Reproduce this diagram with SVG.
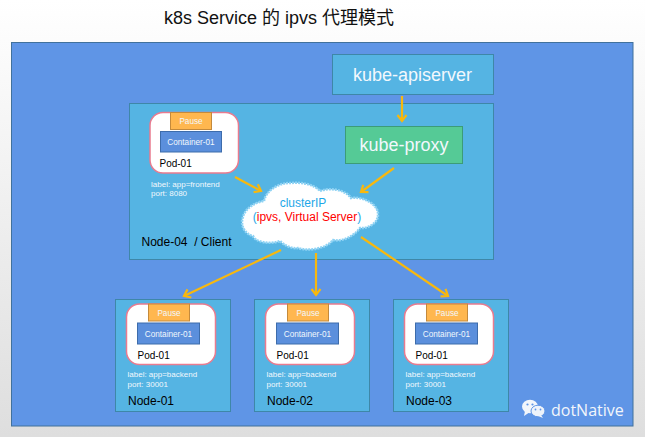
<svg xmlns="http://www.w3.org/2000/svg" width="645" height="437" viewBox="0 0 645 437">
<style>
  text { font-family: "Liberation Sans", "Noto Sans CJK SC", sans-serif; }
  .outer { fill: #5f95e6; stroke: #41719c; stroke-width: 1; }
  .node { fill: #55b4e3; stroke: #3e87a8; stroke-width: 1; }
  .proxy { fill: #55ca96; stroke: #3c9c78; stroke-width: 1; }
  .pod { fill: #fff; stroke: #e97b8f; stroke-width: 1.5; }
  .pause { fill: #ffb74f; stroke: #c48a3c; stroke-width: 1; }
  .box { fill: #5b8fdc; stroke: #3d6cab; stroke-width: 1; }
  .w { fill: #f2f8fd; }
  .tag { font-size: 8.2px; }
  .meta { font-size: 8px; }
  .pn { font-size: 10px; fill: #000; }
  .nn { font-size: 12px; fill: #000; }
  .link { fill: none; stroke: #f8b80e; stroke-width: 2.2; marker-end: url(#tip); }
</style>
<defs>
  <linearGradient id="page" x1="0" y1="0" x2="0" y2="1">
    <stop offset="0" stop-color="#ffffff"/>
    <stop offset="1" stop-color="#dedede"/>
  </linearGradient>
  <marker id="tip" markerUnits="userSpaceOnUse" markerWidth="14" markerHeight="14" refX="10" refY="7" orient="auto">
    <path d="M4 2.500 L10 7 L4 11.500" fill="none" stroke="#f8b80e" stroke-width="2.200"/>
  </marker>
  <g id="pod-backend">
    <rect class="pod" x="0" y="4.500" width="89" height="60.500" rx="13"/>
    <rect class="pause" x="22" y="4.500" width="41" height="17"/>
    <text class="tag w" x="42.500" y="16" text-anchor="middle">Pause</text>
    <rect class="box" x="11" y="23.500" width="62" height="21"/>
    <text class="tag w" x="42" y="37" text-anchor="middle">Container-01</text>
    <text class="pn" x="11" y="59.500">Pod-01</text>
    <text class="meta w" x="1" y="77">label: app=backend</text>
    <text class="meta w" x="1" y="87">port: 30001</text>
  </g>
</defs>

<rect width="645" height="437" fill="url(#page)"/>
<text x="164" y="23.500" font-size="18" fill="#111">k8s Service 的 ipvs 代理模式</text>
<rect class="outer" x="11.500" y="42.500" width="621.500" height="383.500"/>

<g id="kube-apiserver">
  <rect class="node" x="332.500" y="54.500" width="161" height="40"/>
  <text class="w" x="412.500" y="80.500" font-size="18" text-anchor="middle">kube-apiserver</text>
</g>

<g id="node-04">
  <rect class="node" x="129.500" y="103.500" width="364" height="156"/>
  <text class="nn" x="141.500" y="246" xml:space="preserve">Node-04  / Client</text>
</g>

<g id="kube-proxy">
  <rect class="proxy" x="345.500" y="126.500" width="117" height="37"/>
  <text class="w" x="404" y="150.500" font-size="18" text-anchor="middle">kube-proxy</text>
</g>

<g id="pod-frontend">
  <rect class="pod" x="150" y="112.500" width="88.500" height="60.500" rx="13"/>
  <rect class="pause" x="170.500" y="112.500" width="41" height="17"/>
  <text class="tag w" x="191" y="124" text-anchor="middle">Pause</text>
  <rect class="box" x="160.500" y="131.500" width="61" height="20.500"/>
  <text class="tag w" x="191" y="144.500" text-anchor="middle">Container-01</text>
  <text class="pn" x="159.500" y="167">Pod-01</text>
  <text class="meta w" x="151" y="186.500">label: app=frontend</text>
  <text class="meta w" x="151" y="196">port: 8080</text>
</g>

<g id="clusterip">
  <path d="M264 201 C266 190 280 182 292 183 C303 182 315 185 320 191 C330 187 346 190 351 198 C362 196 379 204 378 215 C378 223 368 229 360 228 C354 236 343 242 333 240 C325 250 306 251 298 248 C291 249 284 245 280 241 C270 245 255 242 253 236 C244 234 240 224 243 217 C245 208 256 202 264 201 Z" fill="#fff" stroke="#8fd3f4" stroke-width="2.500" stroke-dasharray="2 1"/>
  <text x="303" y="207" font-size="12" fill="#1ea7e8" text-anchor="middle">clusterIP</text>
  <text x="307" y="221" font-size="12" text-anchor="middle" fill="#1ea7e8">(<tspan fill="#ff0000">ipvs, Virtual Server</tspan>)</text>
</g>

<g id="connectors">
  <path class="link" d="M402 96 V121"/>
  <path class="link" d="M394 168 L361 192"/>
  <path class="link" d="M235 177 L261 191"/>
  <path class="link" d="M281 250 L184 296"/>
  <path class="link" d="M316 253 V295"/>
  <path class="link" d="M361 237 L448 296"/>
</g>

<g id="node-01">
  <rect class="node" x="115.500" y="299.500" width="115" height="112"/>
  <use href="#pod-backend" x="126.500" y="299.500"/>
  <text class="nn" x="128" y="405">Node-01</text>
</g>
<g id="node-02">
  <rect class="node" x="254.500" y="299.500" width="115" height="112"/>
  <use href="#pod-backend" x="265.500" y="299.500"/>
  <text class="nn" x="267" y="405">Node-02</text>
</g>
<g id="node-03">
  <rect class="node" x="393.500" y="299.500" width="115" height="112"/>
  <use href="#pod-backend" x="404.500" y="299.500"/>
  <text class="nn" x="406" y="405">Node-03</text>
</g>

<g id="watermark">
  <ellipse cx="530" cy="406.500" rx="8" ry="6.800" fill="#f2f6fb"/>
  <path d="M525 411 L524 416 L530 412 Z" fill="#f2f6fb"/>
  <ellipse cx="538" cy="411" rx="7" ry="5.800" fill="#eef3fa" stroke="#5f95e6"/>
  <path d="M541 415 L543 418 L538 416 Z" fill="#eef3fa"/>
  <circle cx="527.500" cy="404.500" r="1.100" fill="#5f95e6"/>
  <circle cx="532.500" cy="404.500" r="1.100" fill="#5f95e6"/>
  <circle cx="535.500" cy="409.500" r="0.900" fill="#5f95e6"/>
  <circle cx="540.500" cy="409.500" r="0.900" fill="#5f95e6"/>
  <text x="551" y="415.500" font-size="16" fill="#f2f6fb" style="font-family:'Open Sans',sans-serif">dotNative</text>
</g>
</svg>
